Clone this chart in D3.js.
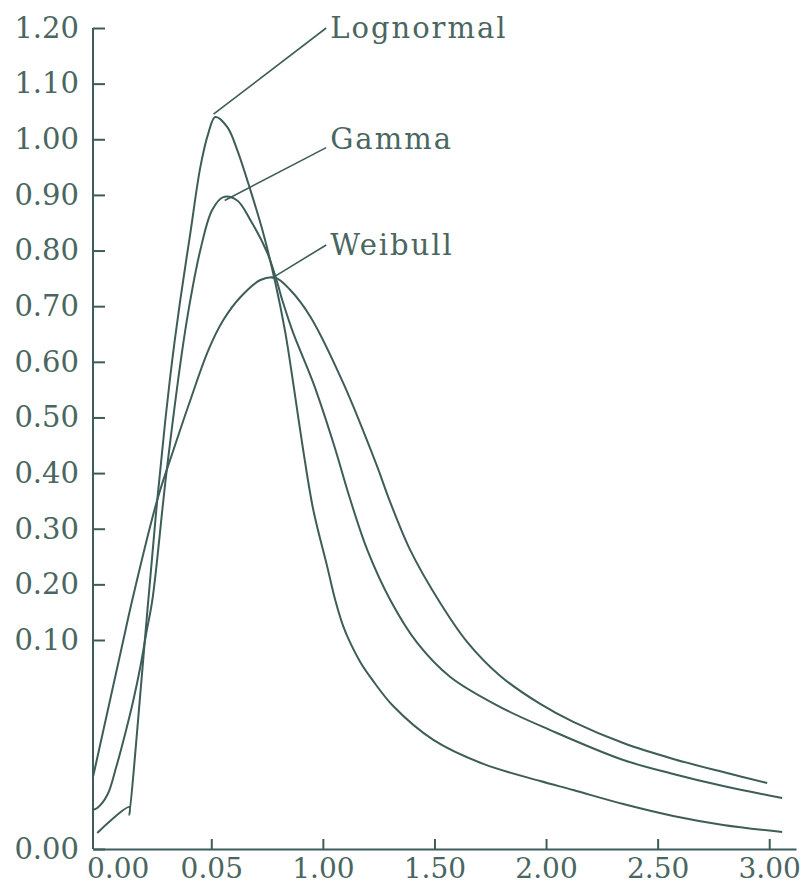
<!DOCTYPE html>
<html>
<head>
	<title>Lognormal, Gamma y Weibull</title>
	<meta charset="utf-8" />
	<script src="https://cdn.jsdelivr.net/npm/d3@7"></script>
<style>
	body { margin: 0; background: #ffffff; }
	svg text { font-family: "DejaVu Serif", serif; fill: #4a6661; }
	.axis path, .axis line { stroke: #3e5d58; stroke-width: 2; }
	.curva { fill: none; stroke: #3e5d58; stroke-width: 2; }
	.guia { stroke: #3e5d58; stroke-width: 1.6; }
</style>
</head>
<body>
<script>
// ejes
var xTicks = [0, 0.5, 1.0, 1.5, 2.0, 2.5, 3.0];
var xTickLabels = ["0.00", "0.05", "1.00", "1.50", "2.00", "2.50", "3.00"];
var yTicks = [0, 0.1, 0.2, 0.3, 0.4, 0.5, 0.6, 0.7, 0.8, 0.9, 1.0, 1.1, 1.2];
var yTickLabels = ["0.00", "0.10", "0.20", "0.30", "0.40", "0.50", "0.60", "0.70", "0.80", "0.90", "1.00", "1.10", "1.20"];

// curvas [x, densidad]
var lognormal = [
	[-0.011, 0.0077], [0.133, 0.0201], [0.133, 0.0163], [0.218, 0.172], [0.258, 0.352],
	[0.294, 0.495], [0.325, 0.603], [0.361, 0.711], [0.406, 0.831], [0.451, 0.950],
	[0.487, 1.011], [0.518, 1.040], [0.572, 1.022], [0.616, 0.981], [0.675, 0.909],
	[0.733, 0.831], [0.787, 0.742], [0.832, 0.652], [0.867, 0.562], [0.912, 0.441],
	[0.957, 0.334], [1.020, 0.231], [1.056, 0.171], [1.091, 0.125], [1.123, 0.0986],
	[1.168, 0.0894], [1.222, 0.0809], [1.315, 0.0684], [1.495, 0.0522], [1.719, 0.0407],
	[1.974, 0.0325], [2.122, 0.0282], [2.346, 0.0215], [2.570, 0.0158], [2.794, 0.0115],
	[3.058, 0.0081]
];
var gamma = [
	[-0.033, 0.0187], [-0.011, 0.0196], [0.034, 0.0258], [0.074, 0.0392], [0.115, 0.0555],
	[0.151, 0.0713], [0.182, 0.0871], [0.209, 0.113], [0.236, 0.172], [0.298, 0.397],
	[0.370, 0.621], [0.406, 0.711], [0.451, 0.801], [0.504, 0.873], [0.554, 0.896],
	[0.616, 0.890], [0.675, 0.855], [0.751, 0.796], [0.796, 0.742], [0.818, 0.711],
	[0.867, 0.652], [0.957, 0.562], [1.047, 0.454], [1.123, 0.352], [1.199, 0.262],
	[1.302, 0.172], [1.423, 0.0986], [1.571, 0.0823], [1.795, 0.0679], [2.019, 0.0569],
	[2.346, 0.0426], [2.570, 0.0359], [2.794, 0.0301], [3.058, 0.0244]
];
var weibull = [
	[-0.029, 0.0349], [0.106, 0.100], [0.146, 0.172], [0.258, 0.352], [0.330, 0.441],
	[0.406, 0.531], [0.487, 0.621], [0.554, 0.675], [0.630, 0.716], [0.720, 0.747],
	[0.787, 0.751], [0.854, 0.729], [0.944, 0.681], [1.091, 0.562], [1.244, 0.411],
	[1.293, 0.357], [1.391, 0.262], [1.526, 0.1665], [1.647, 0.0990], [1.795, 0.0828],
	[1.974, 0.0694], [2.122, 0.0608], [2.346, 0.0507], [2.570, 0.0431], [2.794, 0.0368],
	[2.991, 0.0316]
];

var nombres = ["Lognormal", "Gamma", "Weibull"];
// punto de la curva donde arranca la linea guia, y punto donde acaba (junto al texto)
var anclas = [[0.51, 1.045], [0.56, 0.89], [0.77, 0.75]];
var finGuia = [[1.015, 1.20], [1.015, 0.985], [1.015, 0.81]];

var svg = d3.select("body")
	.append("svg")
	.attr("width", 800)
	.attr("height", 888);

// escala y partida: hueco grande entre 0.00 y 0.10 como en el original
var x = d3.scaleLinear().domain([-0.03, 3.12]).range([93, 796]);
var y = d3.scaleLinear().domain([0, 0.1, 1.2]).range([849, 640, 28]);

// Eje X
var gx = svg.append("g")
	.attr("class", "axis")
	.attr("transform", "translate(0,849)")
	.call(d3.axisBottom(x)
		.tickValues(xTicks)
		.tickSize(-10)
		.tickSizeOuter(0)
		.tickPadding(9)
		.tickFormat(function (d, i) { return xTickLabels[i]; }));
gx.selectAll(".tick text").style("font-size", "28px").attr("fill", null);
gx.selectAll(".tick").filter(function (d) { return d === 0; })
	.each(function () {
		d3.select(this).select("line").remove();
		d3.select(this).select("text").attr("dx", 18);
	});

// Eje Y
var gy = svg.append("g")
	.attr("class", "axis")
	.attr("transform", "translate(93,0)")
	.call(d3.axisLeft(y)
		.tickValues(yTicks)
		.tickSize(-12)
		.tickSizeOuter(0)
		.tickPadding(14)
		.tickFormat(function (d, i) { return yTickLabels[i]; }));
gy.selectAll(".tick text").style("font-size", "29px").attr("fill", null);
gy.select(".domain").attr("d", "M0," + y(1.2) + "V" + y(0));

// Curvas
var linea = d3.line()
	.x(function (d) { return x(d[0]); })
	.y(function (d) { return y(d[1]); })
	.curve(d3.curveCatmullRom.alpha(0.5));

svg.selectAll(".curva")
	.data([lognormal, gamma, weibull])
	.enter().append("path")
	.attr("class", "curva")
	.attr("d", linea);

// Lineas guia y nombres
svg.selectAll(".guia")
	.data(nombres)
	.enter().append("line")
	.attr("class", "guia")
	.attr("x1", function (d, i) { return x(anclas[i][0]); })
	.attr("y1", function (d, i) { return y(anclas[i][1]); })
	.attr("x2", function (d, i) { return x(finGuia[i][0]); })
	.attr("y2", function (d, i) { return y(finGuia[i][1]); });

var dys = ["0.33em", "0.05em", "0.33em"];
svg.selectAll(".nombre")
	.data(nombres)
	.enter().append("text")
	.attr("class", "nombre")
	.attr("x", function (d, i) { return x(finGuia[i][0]) + 4; })
	.attr("y", function (d, i) { return y(finGuia[i][1]); })
	.attr("dy", function (d, i) { return dys[i]; })
	.style("font-size", "29px")
	.style("letter-spacing", "2px")
	.text(function (d) { return d; });
</script>
</body>
</html>
